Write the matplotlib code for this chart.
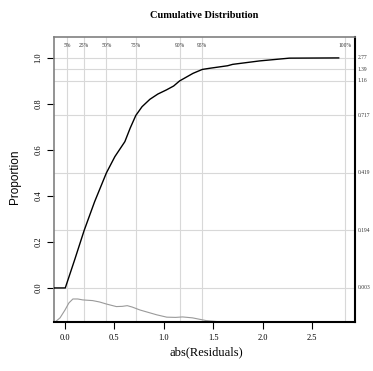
import matplotlib.pyplot as plt

ecdf_x = [-0.2, 0.003, 0.10, 0.194, 0.30, 0.419, 0.505, 0.606, 0.66, 0.717, 0.78, 0.859,
          0.94, 1.027, 1.10, 1.16, 1.296, 1.39, 1.465, 1.646, 1.697, 1.97, 2.27, 2.77]
ecdf_y = [0.0, 0.0, 0.125, 0.25, 0.375, 0.5, 0.571, 0.636, 0.695, 0.75, 0.788, 0.82,
          0.843, 0.861, 0.878, 0.90, 0.933, 0.95, 0.955, 0.966, 0.972, 0.987, 0.999, 1.0]

# Densidad (escala relativa) dibujada en la franja inferior
dens_x = [-0.10, -0.05, 0.0, 0.04, 0.08, 0.13, 0.18, 0.28, 0.35, 0.42, 0.52, 0.58,
          0.63, 0.68, 0.76, 0.93, 1.03, 1.12, 1.19, 1.29, 1.43, 1.55, 1.63, 2.24]
dens_y = [0.0, 0.18, 0.52, 0.83, 1.00, 1.00, 0.96, 0.93, 0.87, 0.78, 0.67, 0.68,
          0.71, 0.65, 0.52, 0.31, 0.21, 0.20, 0.22, 0.18, 0.06, 0.015, 0.0, 0.0]

# Cuantiles: eje superior (porcentajes) y eje derecho (valores)
top_pct = ['5%', '25%', '50%', '75%', '90%', '95%', '100%']
top_vals = [0.02, 0.194, 0.419, 0.717, 1.16, 1.39, 2.83]
right_probs = [0.0, 0.25, 0.5, 0.75, 0.9, 0.95, 1.0]
right_labels = ['0.003', '0.194', '0.419', '0.717', '1.16', '1.39', '2.77']

x_ticks = [0.0, 0.5, 1.0, 1.5, 2.0, 2.5]
y_ticks = [0.0, 0.2, 0.4, 0.6, 0.8, 1.0]

fig = plt.figure(figsize=(3.73, 3.71), dpi=100)
ax = fig.add_axes([0.1448, 0.1321, 0.8069, 0.7682])

serif = 'Liberation Serif'
grid_col = '#d8d8d8'

# Lineas de referencia de los cuantiles
for v in top_vals:
    ax.axvline(v, color=grid_col, lw=0.8, zorder=1)
for p in right_probs:
    ax.axhline(p, color=grid_col, lw=0.8, zorder=1)

# Curva acumulada
ax.plot(ecdf_x, ecdf_y, color='black', lw=1.0, zorder=3)

# Densidad abajo
base = -0.148
ax.plot(dens_x, [base + d * 0.1 for d in dens_y], color='#9a9a9a', lw=0.8, zorder=2)

ax.set_xlim(-0.111, 2.935)
ax.set_ylim(-0.148, 1.091)

ax.set_xticks(x_ticks)
ax.set_xticklabels(['%.1f' % t for t in x_ticks], fontfamily=serif, fontsize=6)
ax.set_yticks(y_ticks)
ax.set_yticklabels(['%.1f' % t for t in y_ticks], fontfamily=serif, fontsize=6,
                   rotation=90, va='center')
ax.tick_params(axis='both', length=5, width=0.8, pad=3.5)

# Bordes: izquierda y arriba grises, abajo y derecha negros
ax.spines['left'].set_color('#808080')
ax.spines['top'].set_color('#808080')
ax.spines['left'].set_linewidth(1.2)
ax.spines['top'].set_linewidth(1.2)
ax.spines['right'].set_linewidth(1.5)
ax.spines['bottom'].set_linewidth(1.5)

# Etiquetas de porcentaje arriba
for v, t in zip(top_vals, top_pct):
    ax.annotate(t, xy=(v, 1), xycoords=('data', 'axes fraction'), xytext=(0, -6.3),
                textcoords='offset points', ha='center', va='center',
                fontfamily=serif, fontsize=4, color='#333333')

# Valores de cuantiles a la derecha
for p, t in zip(right_probs, right_labels):
    ax.annotate(t, xy=(1, p), xycoords=('axes fraction', 'data'), xytext=(2, 0),
                textcoords='offset points', ha='left', va='center',
                fontfamily=serif, fontsize=4, color='#333333', annotation_clip=False)

fig.text(0.548, 0.957, 'Cumulative Distribution', ha='center', va='center',
         fontfamily=serif, fontsize=7.5, fontweight='bold')
fig.text(0.552, 0.051, 'abs(Residuals)', ha='center', va='center',
         fontfamily=serif, fontsize=9)
fig.text(0.040, 0.523, 'Proportion', ha='center', va='center', rotation=90,
         fontfamily='Liberation Sans', fontsize=8.5)

fig.savefig('out.png', dpi=100)
